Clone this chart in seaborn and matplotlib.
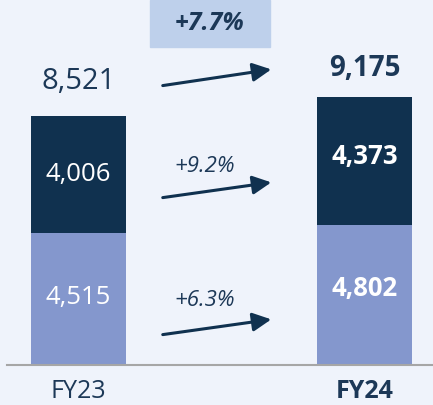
import matplotlib.pyplot as plt
import seaborn as sns
import pandas as pd

years = ["FY23", "FY24"]
base_part = [4515, 4802]   # lower (light) segment
top_part = [4006, 4373]    # upper (dark) segment
totals = [8521, 9175]
growth_labels = ["+7.7%", "+9.2%", "+6.3%"]

dark = "#10314F"
light = "#8497CD"
bg = "#EFF3FB"
txt = "#1C3857"

sns.set_theme(style="white")
plt.rcParams["font.family"] = ["Open Sans", "DejaVu Sans"]

df = pd.DataFrame({"year": years, "base": base_part, "top": top_part, "total": totals})

fig = plt.figure(figsize=(4.33, 4.05), dpi=100, facecolor=bg)
ax = fig.add_axes([7 / 433, 40 / 405, 426 / 433, 365 / 405])
ax.set_facecolor(bg)

# stacked bars: full total in dark, lower part overdrawn in light
sns.barplot(data=df, x="year", y="total", color=dark, width=0.332, saturation=1,
            linewidth=0, ax=ax)
sns.barplot(data=df, x="year", y="base", color=light, width=0.332, saturation=1,
            linewidth=0, ax=ax)

ax.set_xlim(-0.25, 1.24)
ax.set_ylim(0, 12490)
ax.set_xlabel("")
ax.set_ylabel("")
ax.set_yticks([])
for s in ["top", "left", "right"]:
    ax.spines[s].set_visible(False)
ax.spines["bottom"].set_color("#A6A6A6")
ax.spines["bottom"].set_linewidth(1.5)
ax.tick_params(axis="x", length=0, pad=10)
ax.set_xticks(range(len(years)))
ax.set_xticklabels(years, fontsize=18, color=txt)
ax.get_xticklabels()[1].set_fontweight("bold")

# value labels
for i in range(len(years)):
    w = "bold" if i == 1 else "normal"
    ax.annotate(f"{totals[i]:,}", (i, totals[i]), xytext=(0, 28 if i else 34),
                textcoords="offset pixels", ha="center", va="center",
                fontsize=20 if i else 21, fontweight=w, color=txt)
    off = 4 if i else 0
    ax.annotate(f"{top_part[i]:,}", (i, base_part[i] + top_part[i] / 2), xytext=(0, off),
                textcoords="offset pixels", ha="center", va="center",
                fontsize=18.5, fontweight=w, color="white")
    ax.annotate(f"{base_part[i]:,}", (i, base_part[i] / 2), xytext=(0, off + 2),
                textcoords="offset pixels", ha="center", va="center",
                fontsize=18.5, fontweight=w, color="white")


def fx(px):
    return px / 433


def fy(py):
    return 1 - py / 405


# growth box on top
fig.patches.append(plt.Rectangle((fx(150), fy(47)), fx(120), 47 / 405,
                                 transform=fig.transFigure, color="#BED0EB", zorder=0))
fig.text(fx(210), fy(24), growth_labels[0], ha="center", va="center",
         fontsize=18, fontweight="bold", style="italic", color=txt)
fig.text(fx(205), fy(166), growth_labels[1], ha="center", va="center",
         fontsize=16, style="italic", color=txt)
fig.text(fx(205), fy(300), growth_labels[2], ha="center", va="center",
         fontsize=16, style="italic", color=txt)

# arrows
for y0, y1 in [(86, 69), (198, 182), (335, 319)]:
    ax.annotate("", xy=(fx(274), fy(y1)), xytext=(fx(160), fy(y0)),
                xycoords="figure fraction", textcoords="figure fraction",
                arrowprops=dict(arrowstyle="-|>,head_length=0.8,head_width=0.4",
                                color=dark, lw=2.2, mutation_scale=14))

fig.savefig("out.png", dpi=100, facecolor=bg)
